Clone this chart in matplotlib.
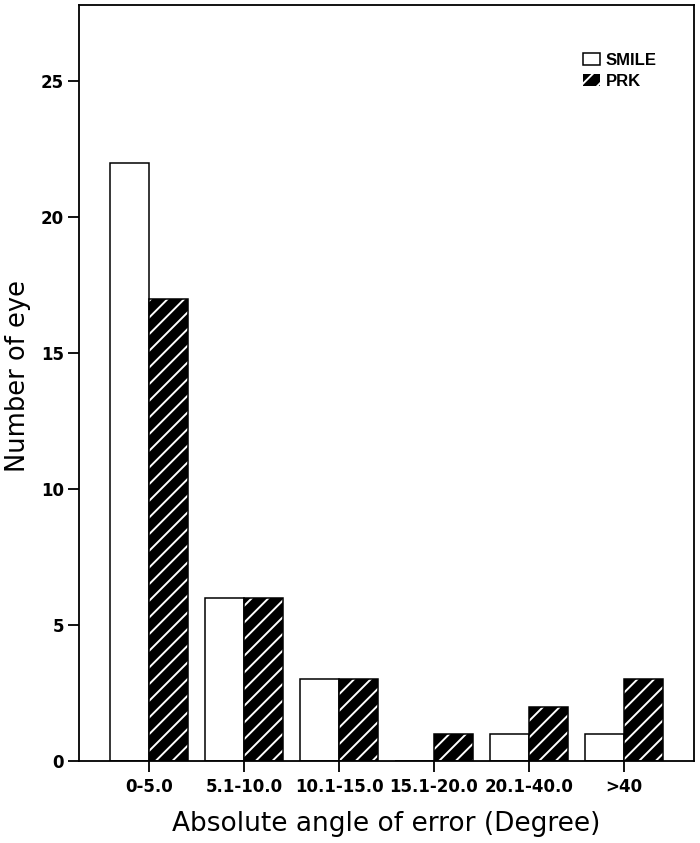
"""Grouped bar chart: absolute angle of error, SMILE vs PRK."""
import matplotlib
matplotlib.use("Agg")
import matplotlib.pyplot as plt
import numpy as np

categories = ["0-5.0", "5.1-10.0", "10.1-15.0", "15.1-20.0", "20.1-40.0", ">40"]
smile = [22, 6, 3, 0, 1, 1]
prk = [17, 6, 3, 1, 2, 3]

plt.rcParams["hatch.linewidth"] = 1.4

fig = plt.figure(figsize=(7, 8.43), dpi=100)
ax = fig.add_axes([0.1129, 0.0973, 0.8785, 0.8968])

x = np.arange(len(categories))
w = 0.41
ax.bar(x - w / 2, smile, w, color="white", edgecolor="black", linewidth=1.1,
       label="SMILE")
# black face with white diagonal stripes, then a black outline on top
ax.bar(x + w / 2, prk, w, color="black", edgecolor="white", linewidth=0,
       hatch="//", label="PRK")
ax.bar(x + w / 2, prk, w, fill=False, edgecolor="black", linewidth=1.1)

ax.set_xlim(-0.737, 5.737)
ax.set_ylim(0, 27.8)
ax.set_yticks([0, 5, 10, 15, 20, 25])
ax.set_xticks(x, categories)
for lab in ax.get_xticklabels() + ax.get_yticklabels():
    lab.set_fontweight("bold")
    lab.set_fontsize(12)
    lab.set_family("DejaVu Sans")
ax.tick_params(direction="out", length=8, width=1.3, pad=3)
ax.tick_params(axis="x", pad=4)
for s in ax.spines.values():
    s.set_linewidth(1.3)

ax.set_xlabel("Absolute angle of error (Degree)", fontsize=19)
ax.set_ylabel("Number of eye", fontsize=18.5)
ax.xaxis.set_label_coords(0.499, -0.066)
ax.yaxis.set_label_coords(-0.078, 0.509)

leg = ax.legend(loc="upper left", bbox_to_anchor=(0.806, 0.948), frameon=False,
                borderpad=0, handlelength=1.0, handleheight=0.8,
                handletextpad=0.35, labelspacing=0.35,
                prop={"family": "Liberation Sans", "weight": "bold", "size": 12})

fig.savefig("out.png")
plt.close(fig)
